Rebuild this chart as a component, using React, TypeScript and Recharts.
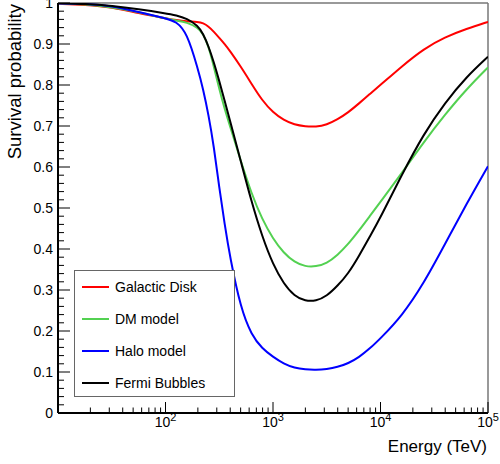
import React from "react";
import { Line, LineChart, ReferenceLine, XAxis, YAxis } from "recharts";

// energies in TeV (log spaced reading points)
const energy = [
  10, 18, 32, 56, 100, 126, 158, 200, 224, 251, 282, 316, 355, 398, 501, 631,
  794, 1000, 1259, 1585, 1995, 2512, 3162, 3981, 5012, 6310, 7943, 10000,
  15849, 25119, 39811, 63096, 100000,
];

const galacticDisk = [
  0.998, 0.996, 0.99, 0.975, 0.963, 0.958, 0.955, 0.954, 0.951, 0.943, 0.93,
  0.915, 0.9, 0.883, 0.845, 0.803, 0.762, 0.733, 0.714, 0.703, 0.699, 0.698,
  0.703, 0.716, 0.733, 0.755, 0.778, 0.8, 0.846, 0.888, 0.917, 0.937, 0.954,
];

const dmModel = [
  0.999, 0.997, 0.99, 0.978, 0.962, 0.957, 0.953, 0.94, 0.925, 0.895, 0.845,
  0.79, 0.742, 0.7, 0.615, 0.535, 0.472, 0.425, 0.39, 0.368, 0.357, 0.357,
  0.365, 0.385, 0.412, 0.445, 0.48, 0.515, 0.586, 0.66, 0.728, 0.79, 0.843,
];

const haloModel = [
  0.999, 0.998, 0.993, 0.978, 0.963, 0.955, 0.928, 0.84, 0.79, 0.728, 0.65,
  0.55, 0.46, 0.38, 0.255, 0.19, 0.157, 0.137, 0.12, 0.11, 0.106, 0.105, 0.107,
  0.112, 0.121, 0.136, 0.157, 0.182, 0.237, 0.315, 0.412, 0.51, 0.602,
];

const fermiBubbles = [
  1.0, 0.998, 0.993, 0.985, 0.975, 0.97, 0.962, 0.945, 0.925, 0.895, 0.855,
  0.81, 0.762, 0.713, 0.615, 0.515, 0.43, 0.362, 0.315, 0.285, 0.273, 0.273,
  0.285, 0.31, 0.34, 0.383, 0.43, 0.477, 0.582, 0.68, 0.757, 0.82, 0.869,
];

const seriesNames = ["Galactic Disk", "DM model", "Halo model", "Fermi Bubbles"];
const seriesKeys = ["disk", "dm", "halo", "fermi"];
const seriesColors = ["#ff0000", "#53d151", "#0000ff", "#000000"];

const xMajorTicks = [100, 1000, 10000, 100000];
const yMajorTicks = [0, 0.1, 0.2, 0.3, 0.4, 0.5, 0.6, 0.7, 0.8, 0.9, 1];
const yTickLabels = ["0", "0.1", "0.2", "0.3", "0.4", "0.5", "0.6", "0.7", "0.8", "0.9", "1"];

const data = energy.map((e, i) => ({
  e,
  disk: galacticDisk[i],
  dm: dmModel[i],
  halo: haloModel[i],
  fermi: fermiBubbles[i],
}));

// minor ticks 2..9 per decade, and every 0.02 on y
const xTicks: number[] = [];
for (let d = 10; d < 100000; d *= 10) {
  for (let k = 2; k <= 10; k++) xTicks.push(d * k);
}
const yTicks: number[] = [];
for (let i = 0; i <= 50; i++) yTicks.push(Math.round(i * 2) / 100);

const FONT = "'Liberation Sans', Arial, Helvetica, sans-serif";

function XTick(props: any) {
  const { x, y, payload } = props;
  const v = payload.value;
  const major = xMajorTicks.some((m) => Math.abs(m - v) < 1e-6 * m);
  return (
    <g>
      <line x1={x} x2={x} y1={y} y2={y - (major ? 11 : 5.5)} stroke="#000" strokeWidth={1} />
      {major && (
        <text x={x} y={y + 14} textAnchor="middle" fontFamily={FONT} fontSize={14} fill="#000">
          <tspan>10</tspan>
          <tspan dy={-6} fontSize={11}>
            {Math.round(Math.log10(v))}
          </tspan>
        </text>
      )}
    </g>
  );
}

function YTick(props: any) {
  const { x, y, payload } = props;
  const v = payload.value;
  const idx = yMajorTicks.findIndex((m) => Math.abs(m - v) < 1e-6);
  const major = idx >= 0;
  return (
    <g>
      <line x1={x} x2={x + (major ? 12 : 6)} y1={y} y2={y} stroke="#000" strokeWidth={1} />
      {major && (
        <text x={x - 5} y={y} dy="0.35em" textAnchor="end" fontFamily={FONT} fontSize={14} fill="#000">
          {yTickLabels[idx]}
        </text>
      )}
    </g>
  );
}

export default function App() {
  return (
    <div style={{ position: "absolute", left: 0, top: 0, width: 500, height: 464, background: "#fff" }}>
      <LineChart width={500} height={464} data={data} margin={{ top: 3, right: 12, bottom: 0, left: 0 }}>
        <XAxis
          dataKey="e"
          type="number"
          scale="log"
          domain={[10, 100000]}
          allowDataOverflow
          ticks={xTicks}
          interval={0}
          tickSize={0}
          tickMargin={0}
          tickLine={false}
          tick={<XTick />}
          height={51}
          axisLine={{ stroke: "#000", strokeWidth: 2 }}
          label={{
            content: () => (
              <text x={487} y={452} textAnchor="end" fontFamily={FONT} fontSize={17} fill="#000">
                Energy (TeV)
              </text>
            ),
          }}
        />
        <YAxis
          type="number"
          domain={[0, 1]}
          allowDataOverflow
          ticks={yTicks}
          interval={0}
          tickSize={0}
          tickMargin={0}
          tickLine={false}
          tick={<YTick />}
          width={58}
          axisLine={{ stroke: "#000", strokeWidth: 2 }}
          label={{
            content: () => (
              <text
                x={20.5}
                y={4}
                transform="rotate(-90 20.5 4)"
                textAnchor="end"
                fontFamily={FONT}
                fontSize={18.5}
                fill="#000"
              >
                Survival probability
              </text>
            ),
          }}
        />
        <ReferenceLine y={1} stroke="#777" strokeWidth={1.5} />
        <ReferenceLine x={100000} stroke="#777" strokeWidth={1.5} />
        {seriesKeys.map((k, i) => (
          <Line
            key={k}
            dataKey={k}
            type="basis"
            stroke={seriesColors[i]}
            strokeWidth={2}
            dot={false}
            activeDot={false}
            isAnimationActive={false}
          />
        ))}
      </LineChart>
      <div
        style={{
          position: "absolute",
          left: 74,
          top: 270,
          width: 159,
          height: 125,
          border: "1px solid #666",
          background: "#fff",
          fontFamily: FONT,
          fontSize: 14,
        }}
      >
        {seriesNames.map((name, i) => (
          <div
            key={name}
            style={{ position: "absolute", left: 0, top: 16 + i * 32 - 10, height: 20, display: "flex", alignItems: "center" }}
          >
            <div style={{ marginLeft: 7, width: 27, height: 2, background: seriesColors[i] }} />
            <span style={{ marginLeft: 6, whiteSpace: "nowrap" }}>{name}</span>
          </div>
        ))}
      </div>
    </div>
  );
}
